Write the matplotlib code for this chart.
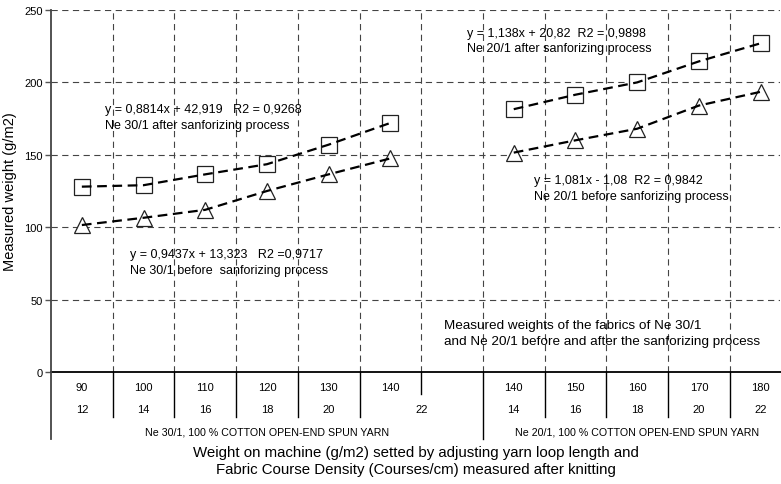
import numpy as np
import matplotlib
matplotlib.use('Agg')
import matplotlib.pyplot as plt

plt.rcParams['font.family'] = ['Liberation Sans', 'DejaVu Sans']
plt.rcParams['lines.scale_dashes'] = False

# categories (two yarn groups on one multi-level axis)
weight_30 = [90, 100, 110, 120, 130, 140]
course_30 = [12, 14, 16, 18, 20, 22]
weight_20 = [140, 150, 160, 170, 180]
course_20 = [14, 16, 18, 20, 22]
group_30 = 'Ne 30/1, 100 % COTTON OPEN-END SPUN YARN'
group_20 = 'Ne 20/1, 100 % COTTON OPEN-END SPUN YARN'

# measured weights (g/m2)
ne30_after = [128, 129, 136.5, 143.5, 157, 172]
ne30_before = [101.5, 106.5, 112, 125, 136.5, 147.5]
ne20_after = [181.5, 191.5, 200, 214.5, 227]
ne20_before = [151.5, 160, 168, 184, 193.5]

notes = [
    (0.37, 185.5, 'y = 0,8814x + 42,919   R2 = 0,9268\nNe 30/1 after sanforizing process'),
    (0.78, 85.5, 'y = 0,9437x + 13,323   R2 =0,9717\nNe 30/1 before  sanforizing process'),
    (6.24, 238.5, 'y = 1,138x + 20,82  R2 = 0,9898\nNe 20/1 after sanforizing process'),
    (7.33, 136.5, 'y = 1,081x - 1,08  R2 = 0,9842\nNe 20/1 before sanforizing process'),
]

fig = plt.figure(figsize=(7.81, 4.85), dpi=100)
ax = fig.add_axes([51 / 781, 112 / 485, 729 / 781, 362 / 485])

n30 = len(weight_30)
x30 = np.arange(n30)
x20 = np.arange(n30 + 1, n30 + 1 + len(weight_20))
nslots = n30 + 1 + len(weight_20)

grid_kw = dict(color='#444444', lw=0.8, dashes=(4.5, 3.2), zorder=1)
for yv in [50, 100, 150, 200, 250]:
    ax.axhline(yv, **grid_kw)
for k in range(nslots - 1):
    ax.axvline(k + 0.5, **grid_kw)

line_kw = dict(color='black', lw=1.6, dashes=(7, 4), zorder=4)
mk_sq = dict(marker='s', ms=11, mfc='white', mec='#222222', mew=0.9, ls='none', zorder=3)
mk_tr = dict(marker='^', ms=12, mfc='white', mec='#222222', mew=0.9, ls='none', zorder=3)
for xs, ys, mk in [(x30, ne30_after, mk_sq), (x30, ne30_before, mk_tr),
                   (x20, ne20_after, mk_sq), (x20, ne20_before, mk_tr)]:
    ax.plot(xs, ys, **mk)
    ax.plot(xs, ys, **line_kw)

for x, y, t in notes:
    ax.text(x, y, t, fontsize=9, va='top', ha='left', linespacing=1.38, zorder=5)
ax.text(5.87, 36.5, 'Measured weights of the fabrics of Ne 30/1\nand Ne 20/1 before and after the sanforizing process',
        fontsize=9.7, va='top', ha='left', linespacing=1.42, zorder=5)

ax.set_xlim(-0.5, -0.5 + 729 / 61.7)
ax.set_ylim(0, 250)
ax.set_yticks([0, 50, 100, 150, 200, 250])
ax.tick_params(axis='y', labelsize=8, length=4, width=1, color='#555555', pad=2)
ax.set_xticks([])
for s in ['top', 'right', 'bottom', 'left']:
    ax.spines[s].set_visible(False)

def py(p):
    # pixel row below the plot -> data y
    return (373 - p) / 1.448

# axis lines
ax.plot([-0.5, 20], [0, 0], color='black', lw=1.3, clip_on=False, zorder=6)
ax.plot([-0.5, -0.5], [250, py(440)], color='#444444', lw=1.3, clip_on=False, zorder=6)

# multi-level category labels
tk = dict(fontsize=8, ha='center', va='center', clip_on=False)
for i in range(n30):
    ax.text(x30[i], py(388), str(weight_30[i]), **tk)
for i in range(n30 - 1):
    ax.text(x30[i], py(410), str(course_30[i]), **tk)
ax.text(n30 - 0.5, py(410), str(course_30[-1]), **tk)
for i in range(len(weight_20)):
    ax.text(x20[i], py(388), str(weight_20[i]), **tk)
    ax.text(x20[i], py(410), str(course_20[i]), **tk)
ax.text((n30 - 1) / 2 + 0.5, py(433), group_30, fontsize=7.7, ha='center', va='center', clip_on=False)
ax.text((x20[0] + x20[-1]) / 2, py(433), group_20, fontsize=7.7, ha='center', va='center', clip_on=False)

# divider ticks
for k in range(nslots - 1):
    b = k + 0.5
    if b == n30 - 0.5:
        end = py(395)
    elif b == n30 + 0.5:
        end = py(440)
    else:
        end = py(418)
    ax.plot([b, b], [0, end], color='black', lw=1, clip_on=False, zorder=6)

ax.set_ylabel('Measured weight (g/m2)', fontsize=10.5, labelpad=5)
fig.text(416 / 781, 1 - 453 / 485, 'Weight on machine (g/m2) setted by adjusting yarn loop length and',
         fontsize=10.8, ha='center', va='center')
fig.text(416 / 781, 1 - 470 / 485, 'Fabric Course Density (Courses/cm) measured after knitting',
         fontsize=10.8, ha='center', va='center')

fig.savefig('out.png', dpi=100)
